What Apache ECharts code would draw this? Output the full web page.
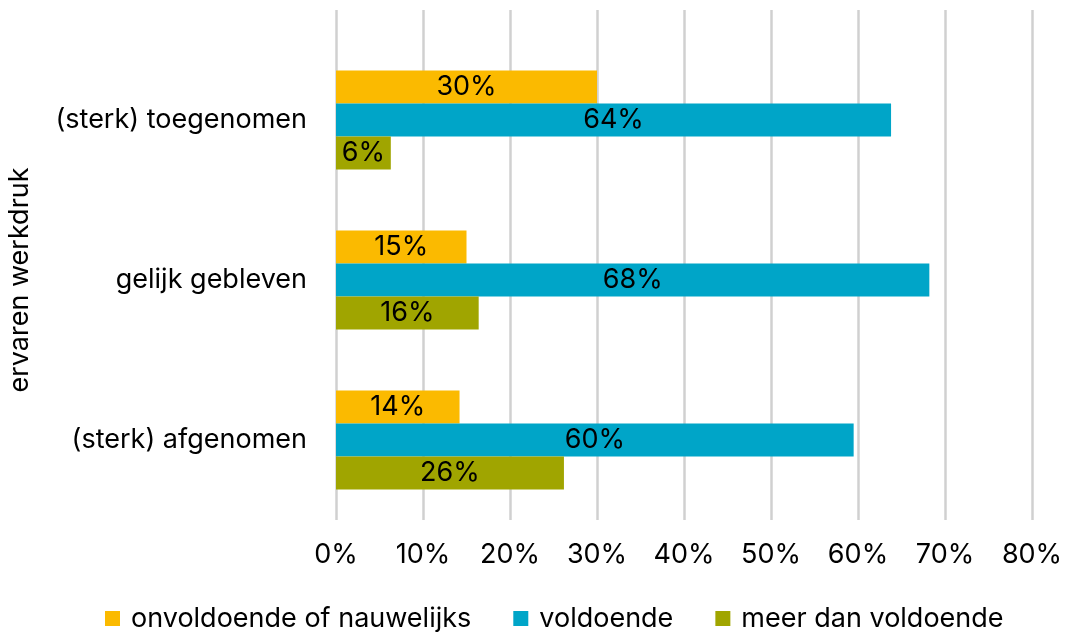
<!DOCTYPE html>
<html>
<head>
<meta charset="utf-8">
<script src="https://cdn.jsdelivr.net/npm/echarts@6/dist/echarts.min.js"></script>
<style>
  html, body { margin: 0; padding: 0; background: #fff; }
  #chart { width: 1067px; height: 632px; }
</style>
</head>
<body>
<div id="chart"></div>
<script>
// categories from top to bottom
const categories = ["(sterk) toegenomen", "gelijk gebleven", "(sterk) afgenomen"];
const seriesNames = ["onvoldoende of nauwelijks", "voldoende", "meer dan voldoende"];
const onvoldoende = [30.0, 15.0, 14.2];
const voldoende = [63.8, 68.2, 59.5];
const meerDan = [6.3, 16.4, 26.2];
const xTicks = [0, 10, 20, 30, 40, 50, 60, 70, 80];

const colors = ["#fbba00", "#00a5c8", "#a0a500"];
const font = "Inter, 'Noto Sans', sans-serif";
const fs = 27;

var myChart = echarts.init(document.getElementById("chart"));

function barSeries(name, data, color) {
  return {
    name: name,
    type: "bar",
    data: data,
    barGap: "0%",
    barCategoryGap: "38%",
    itemStyle: { color: color },
    label: {
      show: true,
      position: "inside",
      color: "#000",
      fontFamily: font,
      fontSize: fs,
      formatter: (p) => Math.round(p.value) + "%",
    },
  };
}

var option = {
  backgroundColor: "#fff",
  animation: false,
  color: colors,
  legend: {
    top: 600,
    left: 100,
    itemWidth: 15,
    itemHeight: 15,
    itemGap: 42,
    icon: "rect",
    textStyle: { fontFamily: font, fontSize: fs, color: "#000", padding: [0, 0, 0, 6] },
    data: seriesNames,
  },
  grid: [
    { left: 336, right: 35, top: 40, bottom: 112, outerBoundsMode: "none" },
    // grid used only for taller gridlines
    { left: 336, right: 35, top: 10, bottom: 112, outerBoundsMode: "none" },
  ],
  xAxis: [
    {
      type: "value",
      gridIndex: 0,
      min: xTicks[0],
      max: xTicks[xTicks.length - 1],
      interval: 10,
      axisLine: { show: false },
      axisTick: { show: false },
      splitLine: { show: false },
      axisLabel: {
        margin: 21,
        fontFamily: font,
        fontSize: fs,
        color: "#000",
        formatter: "{value}%",
      },
    },
    {
      type: "value",
      gridIndex: 1,
      min: xTicks[0],
      max: xTicks[xTicks.length - 1],
      interval: 10,
      axisLine: { show: false },
      axisTick: { show: false },
      axisLabel: { show: false },
      splitLine: { show: true, lineStyle: { color: "#d0d0d0", width: 2.5 } },
    },
  ],
  yAxis: [
    {
      type: "category",
      gridIndex: 0,
      inverse: true,
      data: categories,
      name: "ervaren werkdruk",
      nameLocation: "middle",
      nameGap: 303,
      nameRotate: 90,
      nameTextStyle: { fontFamily: font, fontSize: fs, color: "#000" },
      axisLine: { show: false },
      axisTick: { show: false },
      axisLabel: { margin: 29, fontFamily: font, fontSize: fs, color: "#000" },
    },
    {
      type: "category",
      gridIndex: 1,
      data: categories,
      show: false,
    },
  ],
  series: [
    barSeries(seriesNames[0], onvoldoende, colors[0]),
    barSeries(seriesNames[1], voldoende, colors[1]),
    barSeries(seriesNames[2], meerDan, colors[2]),
  ],
};

myChart.setOption(option);
</script>
</body>
</html>
